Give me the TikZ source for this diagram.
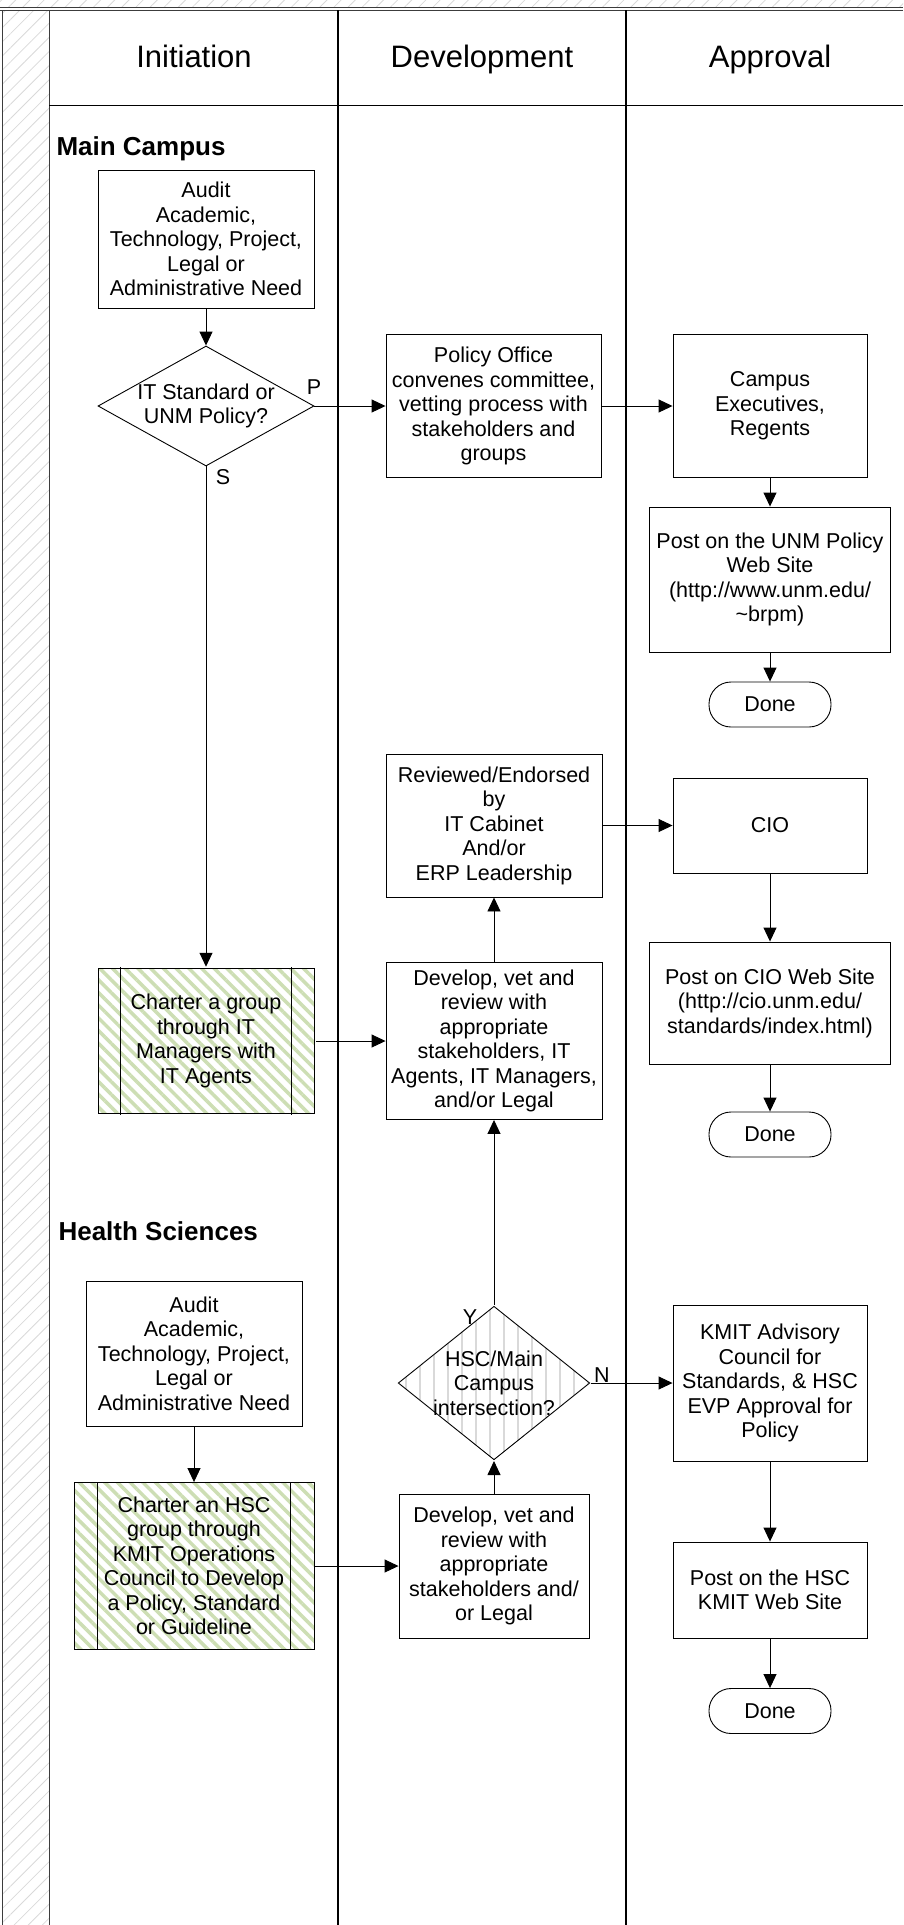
\documentclass[tikz,border=0pt]{standalone}
\usepackage{fontspec}
\setmainfont{Liberation Sans}
\usetikzlibrary{shapes.geometric,arrows.meta,patterns.meta}

\definecolor{hatchgreen}{RGB}{205,222,180}
\definecolor{framegray}{RGB}{60,60,60}

\begin{document}
\begin{tikzpicture}[x=1pt, y=-1pt,
  font=\fontsize{21.5}{24.5}\selectfont,
  box/.style={draw, line width=0.9pt, align=center, inner sep=0pt},
  charterbox/.style={box, pattern={Lines[angle=-45,distance=9pt,line width=3.5pt]}, pattern color=hatchgreen},
  dec/.style={draw, diamond, line width=0.9pt, inner sep=0pt},
  done/.style={draw, line width=0.9pt, rounded corners=22pt, minimum width=122pt, minimum height=45pt, inner sep=0pt},
  lane/.style={font=\fontsize{31}{36}\selectfont, anchor=base},
  campus/.style={font=\fontsize{26}{30}\selectfont\bfseries, anchor=base west},
  tag/.style={inner sep=0pt, align=center},
  flow/.style={-{Triangle[length=14pt,width=13pt]}, line width=0.9pt}
]
\useasboundingbox (0,0) rectangle (903,1925);

% frame and swimlanes
\fill[pattern={Lines[angle=45,distance=10pt,line width=0.8pt]}, pattern color=gray!30] (0,0) rectangle (903,7);
\fill[pattern={Lines[angle=45,distance=10pt,line width=0.8pt]}, pattern color=gray!30] (2,10) rectangle (49,1925);
\draw[framegray, line width=0.9pt] (0,7.7) -- (903,7.7);
\draw[framegray, line width=0.9pt] (0,10.3) -- (903,10.3);
\draw[framegray, line width=1.6pt] (2.3,10) -- (2.3,1925);
\draw[framegray, line width=1.6pt] (49.3,10) -- (49.3,1925);
\draw[line width=1.2pt] (49,105.5) -- (903,105.5);
\draw[line width=1.4pt] (338,10) -- (338,1925);
\draw[line width=1.4pt] (626,10) -- (626,1925);

\node[lane] (initiation) at (194,67) {Initiation};
\node[lane] (development) at (482,67) {Development};
\node[lane] (approval) at (770,67) {Approval};

\node[campus] (maincampus) at (53,155) {Main Campus};
\node[campus] (health) at (55,1240) {Health Sciences};

% main campus
\node[box, minimum width=216pt, minimum height=138pt] (audit1) at (206,239)
  {Audit\\Academic,\\Technology, Project,\\Legal or\\Administrative Need};
\node[dec, minimum width=216pt, minimum height=120pt] (dec1) at (206,406) {};
\node[tag] (dec1text) at (dec1) {IT Standard or\\UNM Policy?};
\node[box, minimum width=215pt, minimum height=143pt] (policy) at (493.5,406)
  {Policy Office\\convenes committee,\\vetting process with\\stakeholders and\\groups};
\node[box, minimum width=194pt, minimum height=143pt] (campus) at (770,406)
  {Campus\\Executives,\\Regents};
\node[box, minimum width=241pt, minimum height=145pt] (postunm) at (770,579.5)
  {Post on the UNM Policy\\Web Site\\(http://www.unm.edu/\\\textasciitilde brpm)};
\node[done] (done1) at (770,704.5) {Done};

\node[box, minimum width=216pt, minimum height=143pt] (reviewed) at (494,825.5)
  {Reviewed/Endorsed\\by\\IT Cabinet\\And/or\\ERP Leadership};
\node[box, minimum width=194pt, minimum height=95pt] (cio) at (770,825.5) {CIO};
\node[box, minimum width=241pt, minimum height=122pt] (postcio) at (770,1003)
  {Post on CIO Web Site\\(http://cio.unm.edu/\\standards/index.html)};
\node[done] (done2) at (770,1134.5) {Done};

\node[charterbox, minimum width=216pt, minimum height=145pt] (charter) at (206,1041)
  {Charter a group\\through IT\\Managers with\\IT Agents};
\draw[line width=0.9pt] ([xshift=24pt]charter.north west) -- ([xshift=24pt]charter.south west);
\draw[line width=0.9pt] ([xshift=-24pt]charter.north east) -- ([xshift=-24pt]charter.south east);
\node[box, minimum width=216pt, minimum height=157pt] (develop1) at (494,1041)
  {Develop, vet and\\review with\\appropriate\\stakeholders, IT\\Agents, IT Managers,\\and/or Legal};

% health sciences
\node[box, minimum width=216pt, minimum height=145pt] (audit2) at (194,1353.5)
  {Audit\\Academic,\\Technology, Project,\\Legal or\\Administrative Need};
\node[charterbox, minimum width=240pt, minimum height=167pt] (charterhsc) at (194,1566)
  {Charter an HSC\\group through\\KMIT Operations\\Council to Develop\\a Policy, Standard\\or Guideline};
\draw[line width=0.9pt] ([xshift=24pt]charterhsc.north west) -- ([xshift=24pt]charterhsc.south west);
\draw[line width=0.9pt] ([xshift=-24pt]charterhsc.north east) -- ([xshift=-24pt]charterhsc.south east);
\node[dec, minimum width=192pt, minimum height=154pt,
  pattern={Lines[angle=90,distance=14pt,line width=2pt]}, pattern color=gray!30] (dec2) at (494,1383) {};
\node[tag] (dec2text) at (dec2) {HSC/Main\\Campus\\intersection?};
\node[box, minimum width=190pt, minimum height=144pt] (develop2) at (494,1566)
  {Develop, vet and\\review with\\appropriate\\stakeholders and/\\or Legal};
\node[box, minimum width=194pt, minimum height=156pt] (kmit) at (770,1383)
  {KMIT Advisory\\Council for\\Standards, \& HSC\\EVP Approval for\\Policy};
\node[box, minimum width=194pt, minimum height=96pt] (posthsc) at (770,1590)
  {Post on the HSC\\KMIT Web Site};
\node[done] (done3) at (770,1711) {Done};

% branch labels
\node[tag] (plabel) at (314,387) {P};
\node[tag] (slabel) at (223,477) {S};
\node[tag] (ylabel) at (470,1317) {Y};
\node[tag] (nlabel) at (602,1375) {N};

% connectors
\draw[flow] (audit1) -- (dec1);
\draw[flow] (dec1) -- (policy);
\draw[flow] (policy) -- (campus);
\draw[flow] (campus) -- (postunm);
\draw[flow] (postunm) -- (done1);
\draw[flow] (dec1) -- (charter);
\draw[flow] (charter) -- (develop1);
\draw[flow] (develop1) -- (reviewed);
\draw[flow] (reviewed) -- (cio);
\draw[flow] (cio) -- (postcio);
\draw[flow] (postcio) -- (done2);
\draw[flow] (audit2) -- (charterhsc);
\draw[flow] (charterhsc) -- (develop2);
\draw[flow] (develop2) -- (dec2);
\draw[flow] (dec2) -- (develop1);
\draw[flow] (dec2) -- (kmit);
\draw[flow] (kmit) -- (posthsc);
\draw[flow] (posthsc) -- (done3);
\end{tikzpicture}
\end{document}
